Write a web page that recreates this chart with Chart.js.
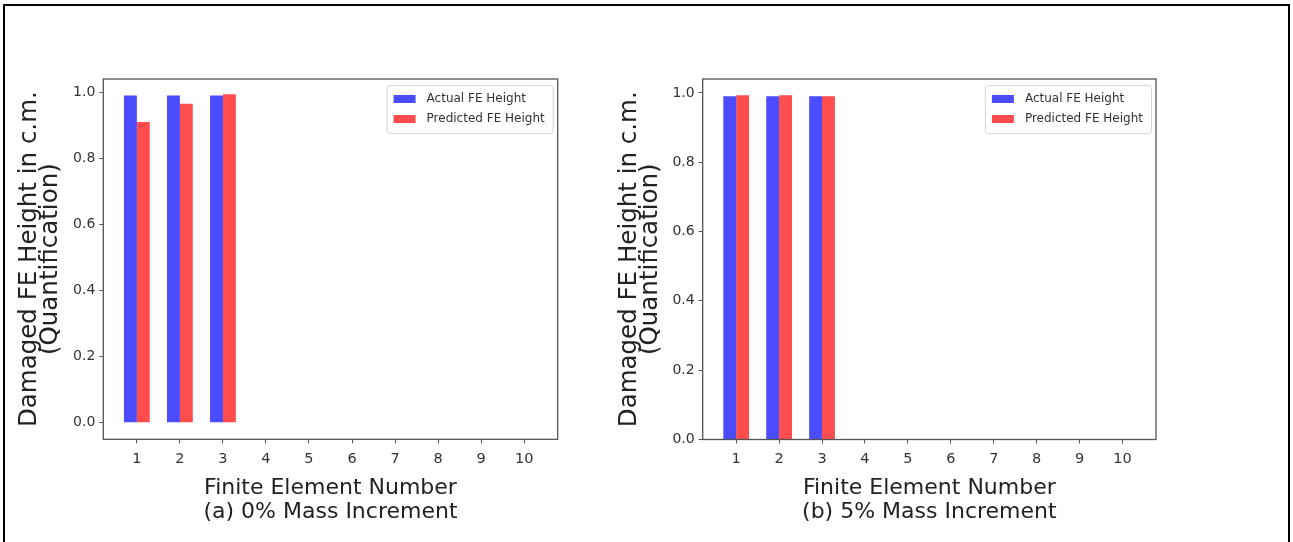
<!DOCTYPE html>
<html>
<head>
<meta charset="utf-8">
<script src="https://cdn.jsdelivr.net/npm/chart.js@4.4.1/dist/chart.umd.min.js"></script>
<style>
  html, body { margin:0; padding:0; background:#fff; }
  body { width:1293px; height:542px; position:relative; overflow:hidden; }
  .pane { position:absolute; top:0; height:542px; }
  #pane-a { left:0; width:600px; }
  #pane-b { left:600px; width:693px; }
  .frame { position:absolute; left:3px; top:4px; width:1283px; height:560px;
           border:2px solid #000; pointer-events:none; }
</style>
</head>
<body>
<div class="pane" id="pane-a"><canvas id="chart-a"></canvas></div>
<div class="pane" id="pane-b"><canvas id="chart-b"></canvas></div>
<div class="frame"></div>
<script>
// finite element numbers on the x axis
const ELEMENTS = [1, 2, 3, 4, 5, 6, 7, 8, 9, 10];
const Y_TICKS  = [0, 0.2, 0.4, 0.6, 0.8, 1.0];

// (a) 0% mass increment
const ACTUAL_A    = [0.99, 0.99, 0.99, 0, 0, 0, 0, 0, 0, 0];
const PREDICTED_A = [0.91, 0.965, 0.994, 0, 0, 0, 0, 0, 0, 0];
// (b) 5% mass increment
const ACTUAL_B    = [0.99, 0.99, 0.99, 0, 0, 0, 0, 0, 0, 0];
const PREDICTED_B = [0.993, 0.993, 0.99, 0, 0, 0, 0, 0, 0, 0];

const LABELS = ["Actual FE Height", "Predicted FE Height"];
const BLUE = "rgba(0,0,255,0.7)";
const RED  = "rgba(255,0,0,0.7)";
const FONT = "'DejaVu Sans', sans-serif";
const AXIS = "#555";

// box around the plot area + legend in the upper right corner
const framePlugin = {
  id: "frame",
  afterDatasetsDraw(chart) {
    const { ctx, chartArea: a } = chart;
    ctx.save();
    ctx.strokeStyle = AXIS;
    ctx.lineWidth = 1.3;
    ctx.strokeRect(a.left, a.top, a.right - a.left, a.bottom - a.top);

    ctx.font = "12px " + FONT;
    const items = chart.data.datasets.map(d => ({ text: d.label, color: d.backgroundColor }));
    const tw = Math.max(...items.map(i => ctx.measureText(i.text).width));
    const w = 40 + tw + 8, h = 48;
    const x = a.right - 5 - w, y = a.top + 6;
    ctx.fillStyle = "rgba(255,255,255,0.85)";
    ctx.strokeStyle = "#d4d4d4";
    ctx.lineWidth = 1;
    ctx.beginPath();
    ctx.roundRect(x + 0.5, y + 0.5, w, h, 3);
    ctx.fill(); ctx.stroke();
    items.forEach((it, i) => {
      const cy = y + 14 + i * 20;
      ctx.fillStyle = it.color;
      ctx.fillRect(x + 7, cy - 4, 22, 8);
      ctx.fillStyle = "#333";
      ctx.textBaseline = "middle";
      ctx.fillText(it.text, x + 40, cy);
    });
    ctx.restore();
  }
};

function panel(id, actual, predicted, caption, o) {
  return new Chart(document.getElementById(id), {
    type: "bar",
    data: {
      labels: ELEMENTS,
      datasets: [
        { label: LABELS[0], data: actual, backgroundColor: BLUE, borderWidth: 0,
          categoryPercentage: 0.6, barPercentage: 1.0 },
        { label: LABELS[1], data: predicted, backgroundColor: RED, borderWidth: 0,
          categoryPercentage: 0.6, barPercentage: 1.0 },
      ],
    },
    options: {
      responsive: true, maintainAspectRatio: false, animation: false,
      layout: { padding: { top: 79, right: o.padRight, bottom: 0, left: 0 } },
      plugins: { legend: { display: false }, tooltip: { enabled: false } },
      scales: {
        x: {
          type: "linear", min: 0.22, max: 10.78, offset: false,
          afterBuildTicks: s => { s.ticks = ELEMENTS.map(v => ({ value: v })); },
          afterFit: s => { s.height = o.xHeight; },
          grid: { offset: false, drawOnChartArea: false, drawTicks: true, tickLength: 4,
                  color: AXIS, lineWidth: 1 },
          border: { display: false },
          ticks: { font: { family: FONT, size: 14.5 }, color: "#333", padding: 7,
                   maxRotation: 0, autoSkip: false },
          title: { display: true, text: ["Finite Element Number", caption],
                   font: { family: FONT, size: 22, lineHeight: "24px" }, color: "#222",
                   padding: { top: 0, bottom: 18 } },
        },
        y: {
          min: o.yMin, max: 1.04,
          afterBuildTicks: s => { s.ticks = Y_TICKS.map(v => ({ value: v })); },
          afterFit: s => { s.width = o.yWidth; },
          grid: { drawOnChartArea: false, drawTicks: true, tickLength: 4, color: AXIS, lineWidth: 1 },
          border: { display: false },
          ticks: { font: { family: FONT, size: 14 }, color: "#333", padding: 4,
                   callback: v => v.toFixed(1) },
          title: { display: true, text: ["Damaged FE Height in c.m.", "(Quantification)"],
                   font: { family: FONT, size: 24.5, lineHeight: "21px" }, color: "#222",
                   padding: { top: 19, bottom: 0 } },
        },
      },
    },
    plugins: [framePlugin],
  });
}

panel("chart-a", ACTUAL_A, PREDICTED_A, "(a) 0% Mass Increment",
      { padRight: 42.3, xHeight: 102.7, yWidth: 103.3, yMin: -0.05 });
panel("chart-b", ACTUAL_B, PREDICTED_B, "(b) 5% Mass Increment",
      { padRight: 137, xHeight: 102.5, yWidth: 102.7, yMin: 0 });
</script>
</body>
</html>
